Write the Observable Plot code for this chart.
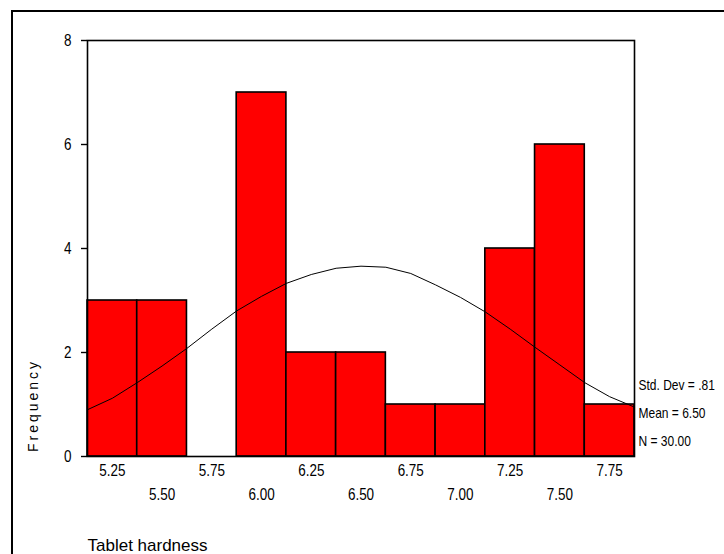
<!DOCTYPE html>
<html>
<head>
<meta charset="utf-8">
<script src="https://cdn.jsdelivr.net/npm/d3@7"></script>
<script src="https://cdn.jsdelivr.net/npm/@observablehq/plot@0.6"></script>
<style>
  html, body { margin: 0; padding: 0; background: #fff; overflow: hidden; }
  #wrap { position: relative; width: 724px; height: 554px; }
  #border { position: absolute; left: 11px; top: 10px; width: 900px; height: 900px;
            border-left: 2px solid #000; border-top: 2px solid #000; pointer-events: none; }
  #chart { position: absolute; left: 0; top: 0; }
</style>
</head>
<body>
<div id="wrap"><div id="chart"></div><div id="border"></div></div>
<script>
// ---- data ----
const binCenters = [5.25, 5.50, 5.75, 6.00, 6.25, 6.50, 6.75, 7.00, 7.25, 7.50, 7.75];
const counts     = [3,    3,    0,    7,    2,    2,    1,    1,    4,    6,    1];
const binWidth = 0.25;

const curveX = [5.125, 5.25, 5.375, 5.5, 5.625, 5.75, 5.875, 6.0, 6.125, 6.25, 6.375, 6.5,
                6.625, 6.75, 6.875, 7.0, 7.125, 7.25, 7.375, 7.5, 7.625, 7.75, 7.875];
const curveY = [0.90, 1.12, 1.42, 1.74, 2.08, 2.45, 2.80, 3.08, 3.33, 3.50, 3.62, 3.66,
                3.64, 3.52, 3.30, 3.06, 2.78, 2.45, 2.10, 1.76, 1.42, 1.15, 0.95];

const yTicks = [0, 2, 4, 6, 8];
const xTicksRow1 = [5.25, 5.75, 6.25, 6.75, 7.25, 7.75];
const xTicksRow2 = [5.50, 6.00, 6.50, 7.00, 7.50];
const statsLabels = ["Std. Dev = .81", "Mean = 6.50", "N = 30.00"];
const xTitle = "Tablet hardness";
const yTitle = "Frequency";

// ---- tables built from the arrays ----
const bins = binCenters.map((c, i) => ({x1: c - binWidth / 2, x2: c + binWidth / 2, count: counts[i]}))
  .filter(d => d.count > 0);
const curve = curveX.map((x, i) => ({x, y: curveY[i]}));
const statDy = [-71, -43, -15];

const fmt = d3.format(".2f");

const chart = Plot.plot({
  width: 724,
  height: 554,
  marginLeft: 87,
  marginRight: 90,
  marginTop: 40,
  marginBottom: 98,
  style: {fontFamily: "'Liberation Sans', Arial, sans-serif", fontSize: "16px", color: "#000", background: "#fff"},
  x: {domain: [binCenters[0] - binWidth / 2, binCenters[binCenters.length - 1] + binWidth / 2]},
  y: {domain: [0, 8]},
  marks: [
    Plot.rectY(bins, {x1: "x1", x2: "x2", y: "count", fill: "#ff0000", stroke: "#000", strokeWidth: 1.6}),
    Plot.line(curve, {x: "x", y: "y", stroke: "#000", strokeWidth: 1}),
    Plot.frame({stroke: "#000", strokeWidth: 1.6}),
    Plot.axisY({ticks: yTicks, tickSize: 6, tickPadding: 10, tickFormat: d => d, label: null, strokeWidth: 1.4,
      fontSize: 16, className: "narrow"}),
    Plot.axisX({ticks: xTicksRow1, tickSize: 0, tickPadding: 8, tickFormat: fmt, label: null, fontSize: 16, className: "narrow"}),
    Plot.axisX({ticks: xTicksRow2, tickSize: 0, tickPadding: 32, tickFormat: fmt, label: null, fontSize: 16, className: "narrow"}),
    ...statsLabels.map((label, i) => Plot.text([label], {frameAnchor: "bottom-right", text: d => d,
      textAnchor: "start", lineAnchor: "middle", dx: 4, dy: statDy[i], fontSize: 15, className: "narrow stats"})),
    Plot.text([xTitle], {frameAnchor: "bottom-left", text: d => d, textAnchor: "start", lineAnchor: "bottom",
      dy: 94, fontSize: 17}),
    Plot.text([yTitle], {frameAnchor: "bottom-left", text: d => d, textAnchor: "middle", lineAnchor: "middle",
      rotate: -90, dx: -54, dy: -51, fontSize: 14, className: "ytitle"})
  ]
});

document.getElementById("chart").appendChild(chart);
chart.querySelectorAll(".ytitle text").forEach(t => t.style.letterSpacing = "3px");
// condensed look of the original font: compress glyphs horizontally
chart.querySelectorAll(".narrow text").forEach(t => {
  const w = t.getComputedTextLength();
  const k = t.closest(".stats") ? 0.8 : 0.84;
  if (w > 0) {
    t.setAttribute("textLength", (w * k).toFixed(1));
    t.setAttribute("lengthAdjust", "spacingAndGlyphs");
  }
});
</script>
</body>
</html>
